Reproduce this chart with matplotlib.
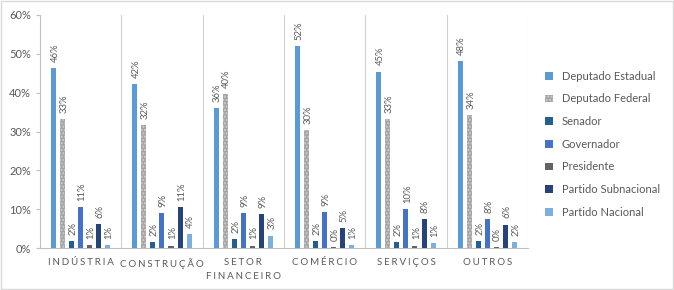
import matplotlib
matplotlib.use("Agg")
import matplotlib.pyplot as plt
from matplotlib.patches import Rectangle
from matplotlib.ticker import PercentFormatter
import numpy as np

plt.rcParams['font.family'] = ['Lato', 'DejaVu Sans']

setores = ['INDÚSTRIA', 'CONSTRUÇÃO', 'SETOR\nFINANCEIRO', 'COMÉRCIO', 'SERVIÇOS', 'OUTROS']
cargos = ['Deputado Estadual', 'Deputado Federal', 'Senador', 'Governador',
          'Presidente', 'Partido Subnacional', 'Partido Nacional']

# valores (%)
dep_estadual = [46.4, 42.2, 36.1, 52.0, 45.4, 48.1]
dep_federal = [33.2, 31.7, 39.7, 30.4, 33.2, 34.2]
senador = [1.8, 1.5, 2.3, 1.8, 1.5, 1.8]
governador = [10.6, 9.0, 9.0, 9.3, 10.0, 7.5]
presidente = [0.8, 0.6, 0.6, 0.3, 0.6, 0.3]
part_subnac = [6.2, 10.6, 8.8, 5.2, 7.5, 6.0]
part_nac = [0.8, 3.6, 3.2, 0.8, 1.3, 1.5]

series = [dep_estadual, dep_federal, senador, governador, presidente, part_subnac, part_nac]
cores = ['#5B9BD5', '#A5A5A5', '#255E91', '#4472C4', '#636363', '#264478', '#7CAFDD']

fig = plt.figure(figsize=(6.74, 2.90), dpi=100)
ax = fig.add_axes([0.0593, 0.1448, 0.7240, 0.8035])

x = np.arange(len(setores))
slot = 9 / 81
largura = 5 / 81
for j, (vals, cor) in enumerate(zip(series, cores)):
    pos = x + (j - 3) * slot
    if j == 1:
        ax.bar(pos, vals, largura, color=cor, hatch='.....', edgecolor='#CFCFCF',
               linewidth=0, label=cargos[j], zorder=3)
    else:
        ax.bar(pos, vals, largura, color=cor, linewidth=0, label=cargos[j], zorder=3)
    for p, v in zip(pos, vals):
        ax.annotate('%d%%' % round(v), (p, v), xytext=(1, 4.5), textcoords='offset points',
                    rotation=90, ha='center', va='bottom', fontsize=6.8, color='#595959')

ax.set_xlim(-0.5, 5.5)
ax.set_ylim(0, 60)
ax.yaxis.set_major_formatter(PercentFormatter(decimals=0))
ax.set_yticks(range(0, 61, 10))
ax.tick_params(axis='y', labelsize=8, labelcolor='#595959', color='#BFBFBF', length=3, width=0.8)

rotulos = ['\u2009\u200a'.join(list(s)).replace('\u2009\u200a\n\u2009\u200a', '\n') for s in setores]
ax.set_xticks(x)
ax.set_xticklabels(rotulos, fontsize=7, color='#595959', linespacing=1.75)
ax.tick_params(axis='x', length=0, pad=7)

# linhas separadoras entre setores
for b in np.arange(0.5, 5.6, 1):
    ax.axvline(b, color='#D0D0D0', linewidth=0.8, zorder=1)

for s in ['top', 'right']:
    ax.spines[s].set_visible(False)
ax.spines['left'].set_color('#BFBFBF')
ax.spines['bottom'].set_color('#BFBFBF')
ax.spines['left'].set_linewidth(0.8)
ax.spines['bottom'].set_linewidth(0.8)

ax.legend(loc='center left', bbox_to_anchor=(1.015, 0.445), frameon=False,
          fontsize=8, labelcolor='#595959', handlelength=0.7, handleheight=0.7,
          labelspacing=1.05, handletextpad=0.8)

fig.patches.append(Rectangle((0.002, 0.004), 0.996, 0.992, transform=fig.transFigure,
                             fill=False, edgecolor='#D9D9D9', linewidth=1))

fig.savefig('out.png', dpi=100)
